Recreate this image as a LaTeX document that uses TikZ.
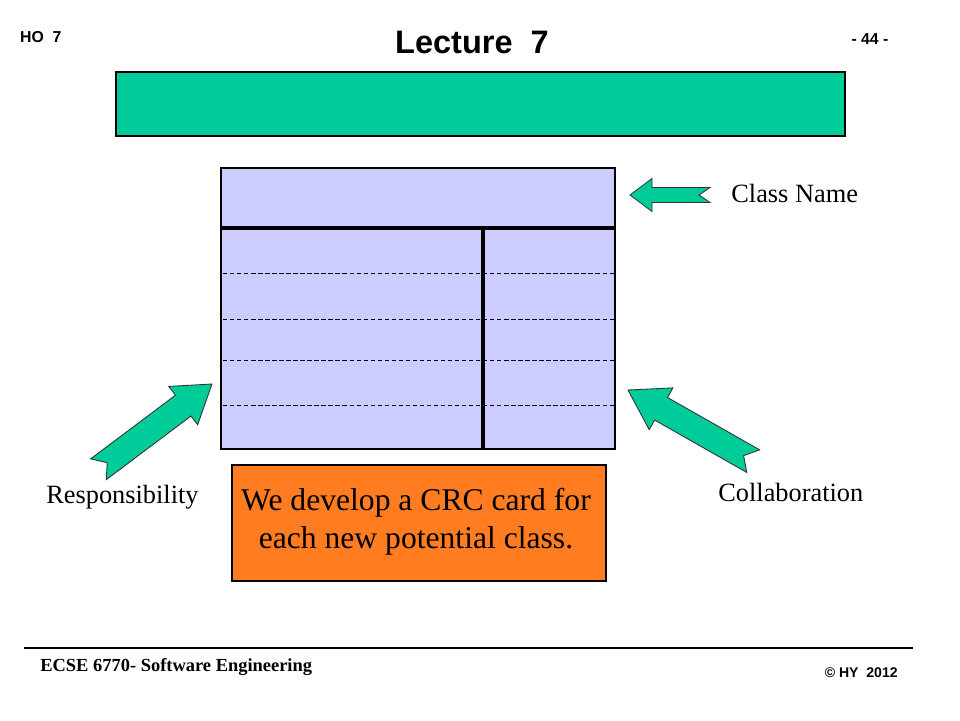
\documentclass[tikz,border=0pt]{standalone}
\usepackage{fontspec}
\setmainfont{Liberation Serif}
\newfontfamily\arialfont{Liberation Sans}
\usepackage{xcolor}
\usepackage{tikz}
\usetikzlibrary{positioning, calc}
\definecolor{crcgreen}{RGB}{0, 204, 153}
\definecolor{cardblue}{RGB}{204, 204, 255}
\definecolor{noteorange}{RGB}{255, 125, 32}
\tikzstyle{card} = [
    draw=black,
    fill=cardblue,
    line width=0.8pt
]
\tikzstyle{blockarrow} = [
    draw=black!80,
    fill=crcgreen,
    line width=0.5pt,
    line join=miter
]
\tikzstyle{label} = [
    font=\fontsize{15}{18}\selectfont,
    inner sep=0pt
]
\tikzstyle{rowline} = [
    dashed,
    dash pattern=on 2.5pt off 1.5pt,
    line width=0.5pt
]
% block arrow: tip, angle, length, head length, head half width, shaft half width
\newcommand{\crcarrow}[6]{%
    \draw[blockarrow, shift={#1}, rotate=#2]
        (0,0) -- (-#4,#5) -- (-#4,#6) -- (-#3,#6) -- (-#3+11,0)
        -- (-#3,-#6) -- (-#4,-#6) -- (-#4,-#5) -- cycle;}

\begin{document}
\begin{tikzpicture}[x=0.02cm, y=-0.02cm]
        \useasboundingbox (0,0) rectangle (960,720);

        % Header
        \node[font=\arialfont\bfseries\fontsize{9}{10}\selectfont, anchor=west] (ho) at (14,37) {HO\ \ 7};
        \node[font=\arialfont\bfseries\fontsize{18.5}{20}\selectfont] (title) at (472,42) {Lecture\ \ 7};
        \node[font=\arialfont\bfseries\fontsize{9}{10}\selectfont] (page) at (870,39) {- 44 -};
        \node[draw=black, fill=crcgreen, line width=0.8pt, minimum width=729*0.02cm, minimum height=64*0.02cm] (banner) at (480.5,104) {};

        % CRC card
        \node[card, minimum width=394*0.02cm, minimum height=281*0.02cm] (crc) at (418,308.5) {};
        \draw[line width=2pt] (221,228) -- (615,228);
        \draw[line width=2pt] (483,228) -- (483,449);
        \foreach \y in {273, 319, 360, 405}
            \draw[rowline] (223,\y) -- (614,\y);

        % Arrows
        \crcarrow{(630,195)}{180}{80}{22}{16.5}{7.5}
        \crcarrow{(212,384)}{36.9}{142}{36}{24}{13}
        \crcarrow{(628,390)}{150.4}{144}{38}{24}{13}

        % Labels
        \node[label, anchor=west] (classname) at (731,193) {Class Name};
        \node[label, anchor=west] (resp) at (46,497) {Responsibility};
        \node[label, anchor=west] (collab) at (718,492) {Collaboration};

        % Note
        \node[draw=black, fill=noteorange, line width=0.6pt, minimum width=374*0.02cm, minimum height=116*0.02cm] (note) at (419,523) {};
        \node[font=\fontsize{18}{21.5}\selectfont, align=center] (notetext) at ($(note.center)+(-3,-1)$) {We develop a CRC card for\\each new potential class.};

        % Footer
        \draw[line width=0.6pt] (24,648) -- (913,648);
        \node[font=\bfseries\fontsize{10.5}{12}\selectfont, anchor=west, inner sep=0pt] (course) at (40,667) {ECSE 6770- Software Engineering};
        \node[font=\arialfont\bfseries\fontsize{8}{10}\selectfont, anchor=east, inner sep=0pt] (copy) at (898,673) {\textcopyright\ HY\ \ 2012};
    \end{tikzpicture}
\end{document}
